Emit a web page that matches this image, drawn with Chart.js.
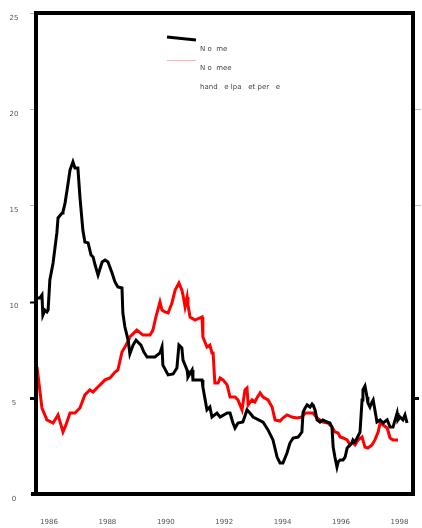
<!DOCTYPE html>
<html>
<head>
<meta charset="utf-8">
<script src="https://cdn.jsdelivr.net/npm/chart.js@4/dist/chart.umd.min.js"></script>
<style>
    html, body { margin: 0; padding: 0; background: #fff; }
    #wrap { width: 422px; height: 528px; }
</style>
</head>
<body>
<div id="wrap"><canvas id="chart" width="422" height="528"></canvas></div>
<script>
// ── Datos ─────────────────────────────────────────────
const blackYears = [1985.59, 1985.69, 1985.76, 1985.79, 1985.86, 1985.93, 1985.97, 1986.03, 1986.14, 1986.27,
    1986.31, 1986.45, 1986.48, 1986.55, 1986.62, 1986.72, 1986.82, 1986.89, 1986.99, 1987.06,
    1987.16, 1987.23, 1987.34, 1987.44, 1987.51, 1987.58, 1987.68, 1987.82, 1987.92, 1988.02,
    1988.16, 1988.26, 1988.36, 1988.50, 1988.53, 1988.60, 1988.71, 1988.77, 1988.88, 1988.98,
    1989.08, 1989.15, 1989.25, 1989.36, 1989.46, 1989.63, 1989.80, 1989.87, 1989.90, 1990.08,
    1990.25, 1990.38, 1990.45, 1990.55, 1990.59, 1990.73, 1990.76, 1990.90, 1990.93, 1991.10,
    1991.24, 1991.27, 1991.41, 1991.51, 1991.58, 1991.75, 1991.86, 1992.10, 1992.20, 1992.30,
    1992.37, 1992.47, 1992.64, 1992.78, 1992.88, 1992.99, 1993.33, 1993.50, 1993.67, 1993.81,
    1993.91, 1994.01, 1994.15, 1994.25, 1994.36, 1994.53, 1994.66, 1994.70, 1994.77, 1994.84,
    1994.94, 1995.01, 1995.04, 1995.11, 1995.18, 1995.28, 1995.38, 1995.52, 1995.62, 1995.69,
    1995.73, 1995.79, 1995.86, 1995.90, 1995.97, 1996.07, 1996.14, 1996.21, 1996.31, 1996.38,
    1996.41, 1996.48, 1996.55, 1996.65, 1996.72, 1996.75, 1996.82, 1996.89, 1996.92, 1996.99,
    1997.06, 1997.10, 1997.16, 1997.23, 1997.34, 1997.44, 1997.58, 1997.68, 1997.78, 1997.92,
    1997.95, 1998.02, 1998.12, 1998.19, 1998.26];
const blackValues = [10.19, 10.19, 10.34, 9.30, 9.56, 9.46, 9.56, 11.12, 12.01, 13.57,
    14.35, 14.60, 14.66, 15.12, 15.80, 16.84, 17.26, 16.94, 16.94, 15.44,
    13.72, 13.10, 13.05, 12.42, 12.32, 11.90, 11.38, 12.06, 12.16, 12.06,
    11.49, 11.02, 10.76, 10.71, 9.41, 8.68, 8.00, 7.28, 7.74, 7.99,
    7.84, 7.74, 7.38, 7.12, 7.12, 7.12, 7.33, 7.64, 6.70, 6.19,
    6.24, 6.55, 7.74, 7.59, 6.96, 6.44, 6.08, 6.44, 5.93, 5.93,
    5.93, 5.56, 4.37, 4.52, 4.00, 4.21, 4.00, 4.21, 4.21, 3.69,
    3.43, 3.69, 3.74, 4.37, 4.21, 4.00, 3.74, 3.33, 2.81, 1.92,
    1.61, 1.61, 2.13, 2.65, 2.91, 2.96, 3.22, 4.26, 4.47, 4.63,
    4.52, 4.68, 4.63, 4.37, 3.85, 3.74, 3.85, 3.74, 3.69, 3.48,
    2.44, 1.92, 1.40, 1.66, 1.77, 1.77, 1.92, 2.39, 2.55, 2.65,
    2.81, 2.70, 2.91, 3.22, 4.89, 5.41, 5.61, 5.04, 4.73, 4.52,
    4.78, 4.89, 4.37, 3.74, 3.85, 3.69, 3.85, 3.48, 3.48, 4.21,
    3.85, 4.00, 3.85, 4.11, 3.69];

const redYears = [1985.59, 1985.76, 1985.93, 1986.14, 1986.31, 1986.41, 1986.48, 1986.58, 1986.72, 1986.89,
    1987.06, 1987.23, 1987.40, 1987.51, 1987.64, 1987.75, 1987.92, 1988.09, 1988.26, 1988.36,
    1988.50, 1988.64, 1988.77, 1989.01, 1989.22, 1989.46, 1989.56, 1989.66, 1989.80, 1989.87,
    1989.97, 1990.08, 1990.21, 1990.32, 1990.45, 1990.55, 1990.59, 1990.66, 1990.73, 1990.76,
    1990.83, 1991.00, 1991.17, 1991.24, 1991.27, 1991.41, 1991.51, 1991.58, 1991.62, 1991.68,
    1991.79, 1991.86, 1991.96, 1992.10, 1992.20, 1992.37, 1992.47, 1992.61, 1992.71, 1992.78,
    1992.82, 1992.95, 1993.05, 1993.12, 1993.23, 1993.33, 1993.50, 1993.64, 1993.74, 1993.91,
    1994.01, 1994.15, 1994.32, 1994.49, 1994.66, 1994.77, 1994.94, 1995.04, 1995.18, 1995.28,
    1995.38, 1995.55, 1995.69, 1995.79, 1995.90, 1995.97, 1996.07, 1996.21, 1996.31, 1996.38,
    1996.48, 1996.58, 1996.72, 1996.82, 1996.92, 1997.06, 1997.16, 1997.27, 1997.34, 1997.44,
    1997.58, 1997.68, 1997.78, 1997.95];
const redValues = [6.60, 4.47, 3.85, 3.69, 4.11, 3.59, 3.22, 3.59, 4.21, 4.21,
    4.47, 5.15, 5.41, 5.30, 5.51, 5.67, 5.93, 6.03, 6.34, 6.44,
    7.38, 7.74, 8.16, 8.52, 8.26, 8.26, 8.52, 9.20, 9.98, 9.56,
    9.46, 9.41, 9.93, 10.60, 10.97, 10.60, 10.34, 9.72, 10.24, 9.82,
    9.20, 9.04, 9.15, 9.20, 8.16, 7.64, 7.74, 7.33, 7.33, 5.77,
    5.77, 6.03, 5.93, 5.67, 5.04, 5.04, 4.89, 4.37, 5.41, 5.51,
    4.63, 4.89, 4.78, 4.99, 5.25, 5.04, 4.89, 4.52, 3.85, 3.79,
    3.95, 4.11, 4.00, 3.95, 4.00, 4.21, 4.21, 4.21, 3.95, 3.85,
    3.74, 3.69, 3.48, 3.22, 3.17, 2.96, 2.91, 2.81, 2.55, 2.70,
    2.55, 2.81, 2.96, 2.44, 2.39, 2.55, 2.81, 3.22, 3.69, 3.59,
    3.43, 2.91, 2.81, 2.81];

const xTicks = [1986, 1988, 1990, 1992, 1994, 1996, 1998];
const yTicks = [0, 5, 10, 15, 20, 25];
const legendLabels = ["N o  me", "N o  mee", "hand   e lpa   et per   e"];

const toPoints = (xs, ys) => xs.map((x, i) => ({ x, y: ys[i] }));

// ── Marco, marcas, etiquetas y leyenda ─────────────────
const framePlugin = {
    id: "frame",
    afterDraw(chart) {
        const ctx = chart.ctx;
        const { left, right, top, bottom } = chart.chartArea;
        const xs = chart.scales.x;
        const ys = chart.scales.y;
        ctx.save();

        // marcas del eje y
        yTicks.forEach(v => {
            const py = Math.round(ys.getPixelForValue(v)) + 0.5;
            const dark = v === 5 || v === 10;
            ctx.strokeStyle = dark ? "#000" : "#bbb";
            ctx.lineWidth = dark ? (v === 5 ? 3 : 2) : 1;
            ctx.beginPath();
            ctx.moveTo(30, py); ctx.lineTo(left, py);
            ctx.stroke();
            if (v === 15 || v === 20 || v === 5) {
                ctx.beginPath();
                ctx.moveTo(right, py); ctx.lineTo(v === 5 ? 419 : 421, py);
                ctx.stroke();
            }
        });

        // marco
        ctx.strokeStyle = "#000";
        ctx.lineWidth = 4;
        ctx.lineCap = "butt";
        ctx.beginPath();
        ctx.moveTo(left - 1, top); ctx.lineTo(right + 2, top);
        ctx.moveTo(left - 1, top - 2); ctx.lineTo(left - 1, bottom + 2);
        ctx.moveTo(right + 1, top - 2); ctx.lineTo(right + 1, bottom + 2);
        ctx.moveTo(31, bottom); ctx.lineTo(right + 3, bottom);
        ctx.stroke();

        // etiquetas
        ctx.fillStyle = "#555";
        ctx.font = "7px 'DejaVu Sans', sans-serif";
        ctx.textAlign = "center";
        ctx.textBaseline = "middle";
        yTicks.forEach(v => ctx.fillText(String(v), 14, ys.getPixelForValue(v) + 5));
        xTicks.forEach(v => ctx.fillText(String(v), xs.getPixelForValue(v), 522));

        // leyenda
        ctx.strokeStyle = "#000";
        ctx.lineWidth = 3;
        ctx.beginPath();
        ctx.moveTo(167, 37); ctx.lineTo(196, 40);
        ctx.stroke();
        ctx.strokeStyle = "#ffb0b0";
        ctx.lineWidth = 1;
        ctx.beginPath();
        ctx.moveTo(167, 60.5); ctx.lineTo(196, 60.5);
        ctx.stroke();
        ctx.fillStyle = "#444";
        ctx.textAlign = "left";
        ctx.fillText(legendLabels[0], 200, 49);
        ctx.fillText(legendLabels[1], 200, 68);
        ctx.fillText(legendLabels[2], 200, 87);

        ctx.restore();
    }
};

new Chart(document.getElementById("chart"), {
    type: "line",
    data: {
        datasets: [
            {
                data: toPoints(blackYears, blackValues),
                borderColor: "#000",
                borderWidth: 3,
                pointRadius: 0,
                tension: 0
            },
            {
                data: toPoints(redYears, redValues),
                borderColor: "#ff0000",
                borderWidth: 3,
                pointRadius: 0,
                tension: 0
            }
        ]
    },
    options: {
        responsive: false,
        animation: false,
        events: [],
        layout: { padding: { left: 37, right: 10, top: 13, bottom: 34 } },
        plugins: { legend: { display: false }, tooltip: { enabled: false } },
        scales: {
            x: { type: "linear", display: false, min: 1985.59, max: 1998.43 },
            y: { type: "linear", display: false, min: 0, max: 25 }
        }
    },
    plugins: [framePlugin]
});
</script>
</body>
</html>
